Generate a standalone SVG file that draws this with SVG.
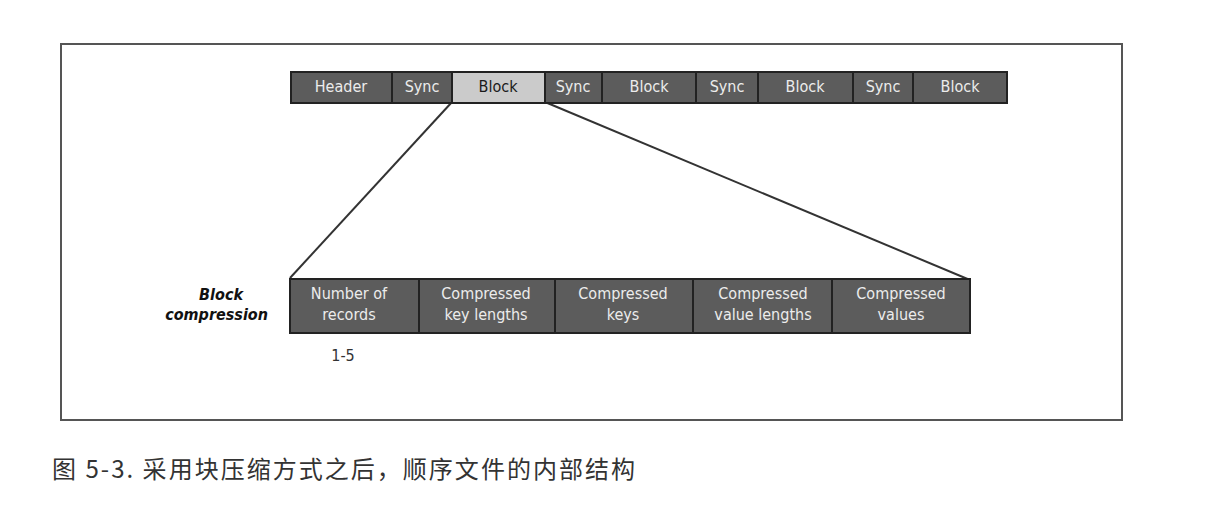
<svg xmlns="http://www.w3.org/2000/svg" width="1222" height="510" viewBox="0 0 1222 510">
<style>
.cell{fill:#5c5c5c;stroke:#222;stroke-width:2}
.light{fill:#cbcbcb;stroke:#222;stroke-width:2}
.t{font-family:"DejaVu Sans Condensed","DejaVu Sans",sans-serif;font-stretch:condensed;font-size:16px;fill:#ececec;text-anchor:middle}
.td{fill:#1a1a1a}
.lbl{font-family:"DejaVu Sans Condensed","DejaVu Sans",sans-serif;font-stretch:condensed;font-size:16px;font-weight:bold;font-style:italic;fill:#111;text-anchor:end}
.num{font-family:"DejaVu Sans Condensed","DejaVu Sans",sans-serif;font-stretch:condensed;font-size:16px;fill:#333;text-anchor:middle}
.cap{font-family:"Noto Sans CJK SC","Noto Sans",sans-serif;font-size:24px;fill:#333}
.conn{stroke:#333;stroke-width:2;fill:none}
</style>
<rect width="1222" height="510" fill="#fff"/>
<rect x="61" y="44" width="1061" height="376" fill="none" stroke="#555" stroke-width="2"/>
<g id="connectors">
<line class="conn" x1="452" y1="102" x2="290" y2="278"/>
<line class="conn" x1="545" y1="102" x2="970" y2="280"/>
</g>
<g id="top-bar">
<g id="header"><rect class="cell" x="291" y="72" width="101" height="31"/><text class="t" x="341" y="92">Header</text></g>
<g id="sync1"><rect class="cell" x="392" y="72" width="60" height="31"/><text class="t" x="422" y="92">Sync</text></g>
<g id="block1"><rect class="light" x="452" y="72" width="93" height="31"/><text class="t td" x="498" y="92">Block</text></g>
<g id="sync2"><rect class="cell" x="545" y="72" width="57" height="31"/><text class="t" x="573" y="92">Sync</text></g>
<g id="block2"><rect class="cell" x="602" y="72" width="94" height="31"/><text class="t" x="649" y="92">Block</text></g>
<g id="sync3"><rect class="cell" x="696" y="72" width="62" height="31"/><text class="t" x="727" y="92">Sync</text></g>
<g id="block3"><rect class="cell" x="758" y="72" width="95" height="31"/><text class="t" x="805" y="92">Block</text></g>
<g id="sync4"><rect class="cell" x="853" y="72" width="60" height="31"/><text class="t" x="883" y="92">Sync</text></g>
<g id="block4"><rect class="cell" x="913" y="72" width="94" height="31"/><text class="t" x="960" y="92">Block</text></g>
</g>
<g id="bottom-bar">
<g id="num-records"><rect class="cell" x="290" y="279" width="129" height="54"/><text class="t" x="349" y="299">Number of</text><text class="t" x="349" y="320">records</text></g>
<g id="key-lengths"><rect class="cell" x="419" y="279" width="136" height="54"/><text class="t" x="486" y="299">Compressed</text><text class="t" x="486" y="320">key lengths</text></g>
<g id="keys"><rect class="cell" x="555" y="279" width="138" height="54"/><text class="t" x="623" y="299">Compressed</text><text class="t" x="623" y="320">keys</text></g>
<g id="value-lengths"><rect class="cell" x="693" y="279" width="139" height="54"/><text class="t" x="763" y="299">Compressed</text><text class="t" x="763" y="320">value lengths</text></g>
<g id="values"><rect class="cell" x="832" y="279" width="138" height="54"/><text class="t" x="901" y="299">Compressed</text><text class="t" x="901" y="320">values</text></g>
</g>
<g id="label">
<text class="lbl" x="243" y="300">Block</text>
<text class="lbl" x="268" y="320">compression</text>
</g>
<g id="range"><text class="num" x="343" y="361">1-5</text></g>
<text class="cap" x="52" y="478" textLength="583" lengthAdjust="spacing">图 5-3. 采用块压缩方式之后，顺序文件的内部结构</text>
</svg>
